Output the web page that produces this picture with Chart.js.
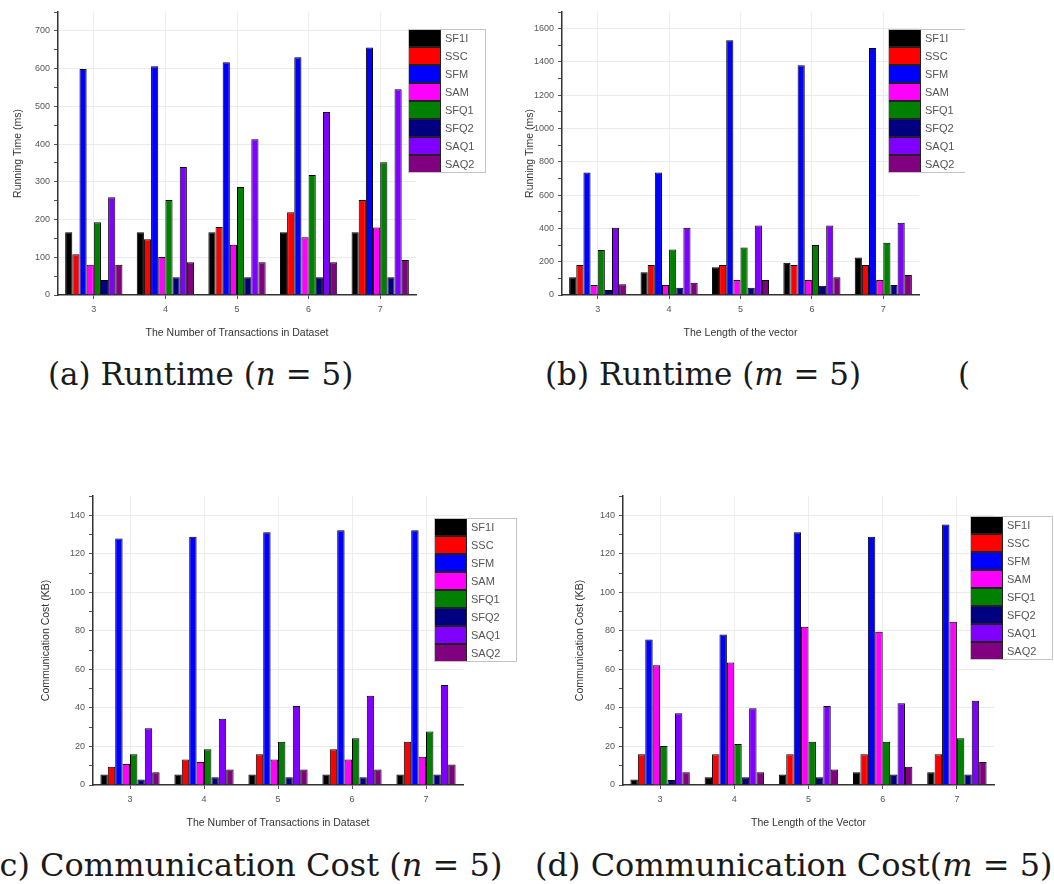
<!DOCTYPE html>
<html>
<head>
<meta charset="utf-8">
<script src="https://cdn.jsdelivr.net/npm/chart.js@4.4.1/dist/chart.umd.min.js"></script>
<style>
  html, body { margin: 0; padding: 0; background: #fff; }
  body { width: 1054px; height: 884px; position: relative; overflow: hidden; }
  .box { position: absolute; }
  .cap { position: absolute; font-family: "DejaVu Serif", serif; font-size: 31px; line-height: 31px; color: #1a1a1a; white-space: nowrap; }
  .cap.low { font-size: 32px; line-height: 32px; }
</style>
</head>
<body>
<div class="box" style="left:0;top:0;width:500px;height:345px"><canvas id="chartA"></canvas></div>
<div class="box" style="left:500px;top:0;width:465px;height:345px"><canvas id="chartB"></canvas></div>
<div class="box" style="left:0;top:480px;width:520px;height:355px"><canvas id="chartC"></canvas></div>
<div class="box" style="left:520px;top:480px;width:534px;height:355px"><canvas id="chartD"></canvas></div>

<div class="cap" style="left:48px;top:359px">(a) Runtime (<i>n</i> = 5)</div>
<div class="cap" style="left:545px;top:359px">(b) Runtime (<i>m</i> = 5)</div>
<div class="cap" style="left:958px;top:359px">(</div>
<div class="cap low" style="left:-13px;top:849px">(c) Communication Cost (<i>n</i> = 5)</div>
<div class="cap low" style="left:535px;top:849px">(d) Communication Cost(<i>m</i> = 5)</div>

<script>
// categories and series shared by all four panels
const categories = ['3', '4', '5', '6', '7'];
const seriesNames = ['SF1I', 'SSC', 'SFM', 'SAM', 'SFQ1', 'SFQ2', 'SAQ1', 'SAQ2'];
const seriesColors = ['#000000', '#ff0000', '#0000ff', '#ff00ff', '#008000', '#000080', '#8000ff', '#800080'];

// (a) Runtime, n = 5 -- one row per series, one value per category
const runtimeN = [
    [166, 166, 166, 166, 166],
    [108, 148, 180, 219, 252],
    [599, 606, 617, 630, 656],
    [80, 101, 133, 153, 179],
    [193, 252, 286, 318, 352],
    [40, 47, 47, 47, 47],
    [259, 339, 413, 485, 545],
    [80, 87, 87, 87, 93],
];

// (b) Runtime, m = 5
const runtimeM = [
    [106, 136, 166, 194, 226],
    [180, 180, 180, 180, 180],
    [736, 736, 1530, 1380, 1484],
    [60, 60, 90, 90, 90],
    [270, 274, 286, 300, 314],
    [30, 44, 44, 56, 60],
    [404, 404, 418, 418, 434],
    [64, 74, 90, 106, 120],
];

// (c) Communication cost, n = 5
const commN = [
    [5.4, 5.4, 5.4, 5.4, 5.4],
    [9.5, 13.3, 15.9, 18.5, 22.5],
    [128, 128.8, 131.2, 132.2, 132.2],
    [10.9, 11.9, 13.3, 13.3, 14.7],
    [15.9, 18.5, 22.5, 24.2, 27.8],
    [2.9, 4, 4, 4, 5.4],
    [29.4, 34.4, 41, 46.3, 51.9],
    [6.6, 8.1, 8.1, 8.1, 10.7],
];

// (d) Communication cost, m = 5
const commM = [
    [2.8, 4, 5.4, 6.6, 6.6],
    [15.9, 15.9, 15.9, 15.9, 15.9],
    [75.5, 78.1, 131.2, 128.8, 135.2],
    [62.2, 63.6, 82.1, 79.5, 84.7],
    [20.2, 21.3, 22.5, 22.5, 24.2],
    [2.6, 4, 4, 5.4, 5.4],
    [37.2, 39.8, 41, 42.4, 43.7],
    [6.6, 6.6, 8.1, 9.5, 11.9],
];

Chart.defaults.font.family = '"Liberation Sans", Arial, sans-serif';
Chart.defaults.animation = false;

// Origin-style boxed legend, drawn at a fixed spot over the plot corner
const boxLegend = {
    id: 'boxLegend',
    afterDraw(chart, args, o) {
        const ctx = chart.ctx;
        const ds = chart.data.datasets;
        const rowH = 18, sw = 33;
        const x = o.x, y = o.y, w = o.w, h = rowH * ds.length;
        ctx.save();
        ctx.fillStyle = '#fff';
        ctx.fillRect(x, y, w, h);
        ctx.font = '11px "Liberation Sans", Arial, sans-serif';
        ctx.textBaseline = 'middle';
        ds.forEach((d, i) => {
            const ry = y + i * rowH;
            ctx.fillStyle = d.backgroundColor;
            ctx.fillRect(x, ry, sw, rowH);
            ctx.strokeStyle = '#222';
            ctx.lineWidth = 1;
            ctx.strokeRect(x + 0.5, ry + 0.5, sw - 1, rowH - 1);
            ctx.fillStyle = '#555';
            ctx.fillText(d.label, x + sw + 4, ry + rowH / 2 + 1);
        });
        ctx.strokeStyle = '#c4c4c4';
        ctx.strokeRect(x + 0.5, y + 0.5, w - 1, h - 1);
        ctx.restore();
    }
};

function makeChart(id, rows, cfg) {
    const ctx = document.getElementById(id).getContext('2d');
    return new Chart(ctx, {
        type: 'bar',
        data: {
            labels: categories,
            datasets: rows.map((vals, i) => ({
                label: seriesNames[i],
                data: vals,
                backgroundColor: seriesColors[i],
                borderColor: '#000',
                borderWidth: 1,
                categoryPercentage: 0.8,
                barPercentage: 1.0,
            })),
        },
        options: {
            responsive: true,
            maintainAspectRatio: false,
            layout: { padding: cfg.padding },
            plugins: {
                legend: { display: false },
                tooltip: { enabled: false },
                boxLegend: cfg.legend,
            },
            scales: {
                x: {
                    grid: {
                        offset: false,
                        color: '#eeeeee',
                        tickColor: '#555',
                        tickLength: 4,
                    },
                    border: { color: '#333', width: 1.5 },
                    ticks: { color: '#555', font: { size: 9 }, padding: 5 },
                    title: {
                        display: true,
                        text: cfg.xTitle,
                        color: '#333',
                        font: { size: 10.5 },
                        padding: { top: 4, bottom: 4 },
                    },
                    afterFit: (s) => { s.height = 48; },
                },
                y: {
                    min: 0,
                    max: cfg.max,
                    grid: {
                        color: (c) => (c.tick && c.tick.value % cfg.major === 0 && c.tick.value > 0) ? '#ebebeb' : 'rgba(0,0,0,0)',
                        tickColor: '#555',
                        tickLength: 4,
                    },
                    border: { color: '#333', width: 1.5 },
                    ticks: {
                        stepSize: cfg.major / 2,
                        autoSkip: false,
                        color: '#555',
                        font: { size: 9 },
                        padding: 4,
                        callback: (v) => (v % cfg.major === 0 ? v : ''),
                    },
                    title: {
                        display: true,
                        text: cfg.yTitle,
                        color: '#333',
                        font: { size: 10.5 },
                        padding: { top: 4, bottom: 4 },
                    },
                    afterFit: (s) => { s.width = cfg.yWidth; },
                },
            },
        },
        plugins: [boxLegend],
    });
}

makeChart('chartA', runtimeN, {
    max: 750, major: 100, yWidth: 50,
    padding: { left: 8, right: 84, top: 12, bottom: 2 },
    xTitle: 'The Number of Transactions in Dataset',
    yTitle: 'Running Time (ms)',
    legend: { x: 408, y: 29, w: 78 },
});

makeChart('chartB', runtimeM, {
    max: 1700, major: 200, yWidth: 42,
    padding: { left: 20, right: 46, top: 12, bottom: 2 },
    xTitle: 'The Length of the vector',
    yTitle: 'Running Time (ms)',
    legend: { x: 388, y: 29, w: 78 },
});

makeChart('chartC', commN, {
    max: 150, major: 20, yWidth: 57,
    padding: { left: 36, right: 57, top: 16, bottom: 2 },
    xTitle: 'The Number of Transactions in Dataset',
    yTitle: 'Communication Cost (KB)',
    legend: { x: 434, y: 38, w: 83 },
});

makeChart('chartD', commM, {
    max: 150, major: 20, yWidth: 53,
    padding: { left: 50, right: 60, top: 16, bottom: 2 },
    xTitle: 'The Length of the Vector',
    yTitle: 'Communication Cost (KB)',
    legend: { x: 450, y: 36, w: 83 },
});
</script>
</body>
</html>
